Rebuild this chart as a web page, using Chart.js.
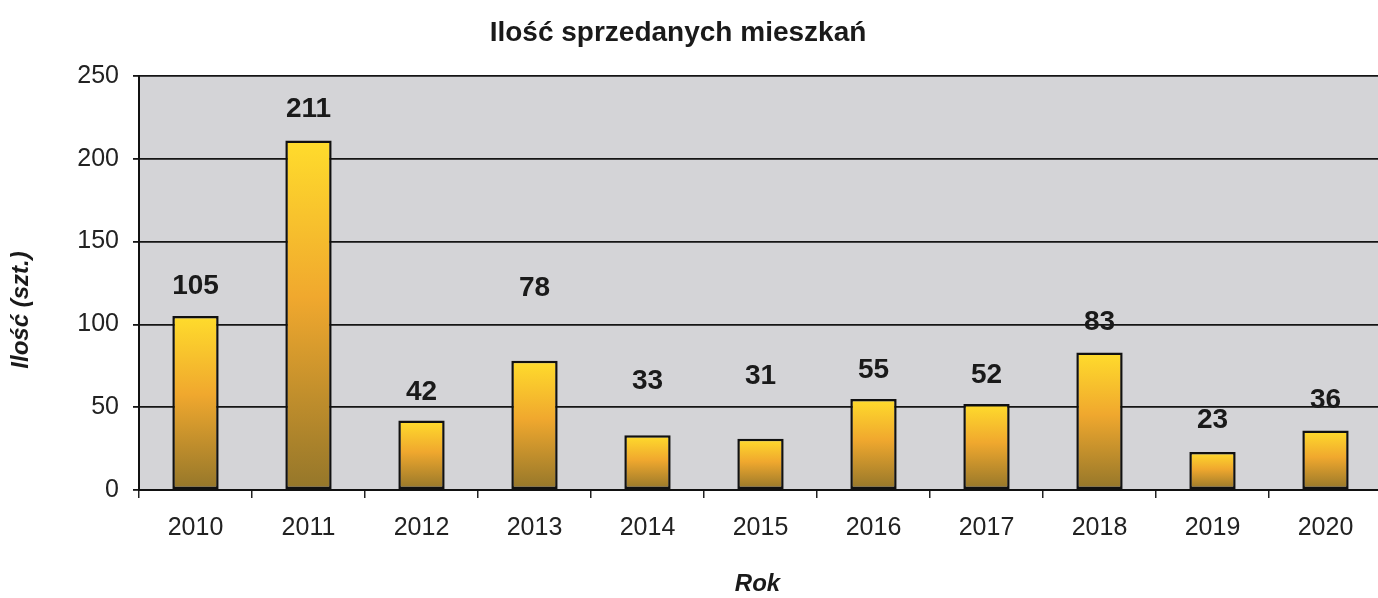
<!DOCTYPE html>
<html lang="pl">
<head>
<meta charset="utf-8">
<title>Ilość sprzedanych mieszkań</title>
<script src="https://cdn.jsdelivr.net/npm/chart.js@4/dist/chart.umd.min.js"></script>
<style>
    html, body { margin: 0; padding: 0; background: #ffffff; overflow: hidden; }
    #wrap { position: relative; width: 1386px; height: 598px; }
</style>
</head>
<body>
<div id="wrap"><canvas id="barChart"></canvas></div>
<script>
// data
const years = ['2010', '2011', '2012', '2013', '2014', '2015', '2016', '2017', '2018', '2019', '2020'];
const soldFlats = [105, 211, 42, 78, 33, 31, 55, 52, 83, 23, 36];
const yTicks = [0, 50, 100, 150, 200, 250];

// how far above the bar top each value label sits (px)
const labelLift = [30, 31, 28, 73, 54, 62, 29, 29, 30, 32, 30];

const FONT = "'Liberation Sans', Arial, sans-serif";
const chartTitle = 'Ilość sprzedanych mieszkań';

function barGradient(context) {
    const chart = context.chart;
    const yScale = chart.scales.y;
    if (!chart.chartArea || !yScale || context.type !== 'data') {
        return '#f0b030';
    }
    const top = yScale.getPixelForValue(context.raw);
    const bottom = yScale.getPixelForValue(0);
    if (!isFinite(top) || !isFinite(bottom) || top === bottom) {
        return '#f0b030';
    }
    const g = chart.ctx.createLinearGradient(0, top, 0, bottom);
    g.addColorStop(0, '#ffdc2c');
    g.addColorStop(0.45, '#f0a82e');
    g.addColorStop(1, '#94762a');
    return g;
}

// grey plot background
const plotBackground = {
    id: 'plotBackground',
    beforeDraw(chart) {
        const a = chart.chartArea;
        const ctx = chart.ctx;
        ctx.save();
        ctx.fillStyle = '#d4d4d7';
        ctx.fillRect(a.left, a.top, a.right - a.left, a.bottom - a.top);
        ctx.restore();
    }
};

// title, value labels and axis titles
const extraText = {
    id: 'extraText',
    afterDatasetsDraw(chart) {
        const ctx = chart.ctx;
        const meta = chart.getDatasetMeta(0);
        ctx.save();
        ctx.fillStyle = '#1a1a1a';
        ctx.textAlign = 'center';
        ctx.textBaseline = 'middle';
        ctx.font = 'bold 28px ' + FONT;
        meta.data.forEach(function (bar, i) {
            ctx.fillText(String(soldFlats[i]), bar.x, bar.y - labelLift[i]);
        });
        ctx.restore();
    },
    afterDraw(chart) {
        const ctx = chart.ctx;
        const a = chart.chartArea;
        ctx.save();
        ctx.fillStyle = '#1a1a1a';
        ctx.textAlign = 'center';
        ctx.textBaseline = 'middle';
        ctx.font = 'bold 28px ' + FONT;
        ctx.fillText(chartTitle, 678, 33);
        ctx.font = 'italic bold 24px ' + FONT;
        ctx.fillText('Rok', (a.left + a.right) / 2 - 3, 584);
        ctx.translate(21, 310);
        ctx.rotate(-Math.PI / 2);
        ctx.font = 'italic bold 24px ' + FONT;
        ctx.fillText('Ilość (szt.)', 0, 0);
        ctx.restore();
    }
};

const ctx = document.getElementById('barChart').getContext('2d');
const chart = new Chart(ctx, {
    type: 'bar',
    data: {
        labels: years,
        datasets: [{
            label: chartTitle,
            data: soldFlats,
            backgroundColor: barGradient,
            borderColor: '#111111',
            borderWidth: 2.5,
            borderSkipped: false,
            categoryPercentage: 1,
            barPercentage: 0.41
        }]
    },
    options: {
        responsive: true,
        maintainAspectRatio: false,
        animation: false,
        devicePixelRatio: 1,
        layout: { padding: { top: 76, right: 4, bottom: 0, left: 0 } },
        plugins: {
            legend: { display: false },
            tooltip: { enabled: false },
            title: { display: false }
        },
        scales: {
            x: {
                grid: {
                    display: true,
                    drawOnChartArea: false,
                    drawTicks: true,
                    tickLength: 8,
                    color: '#222222',
                    lineWidth: 1.5
                },
                border: { display: true, color: '#111111', width: 2 },
                ticks: {
                    color: '#222222',
                    padding: 15,
                    maxRotation: 0,
                    font: { family: FONT, size: 25 }
                },
                afterFit(scale) { scale.height = 108; }
            },
            y: {
                min: 0,
                max: 250,
                afterBuildTicks(scale) {
                    scale.ticks = yTicks.map(function (v) { return { value: v }; });
                },
                grid: {
                    color: '#151515',
                    lineWidth: 1.8,
                    drawTicks: true,
                    tickLength: 6
                },
                border: { display: true, color: '#111111', width: 2 },
                ticks: {
                    color: '#222222',
                    padding: 14,
                    font: { family: FONT, size: 25 }
                },
                afterFit(scale) { scale.width = 139; }
            }
        }
    },
    plugins: [plotBackground, extraText]
});
</script>
</body>
</html>
